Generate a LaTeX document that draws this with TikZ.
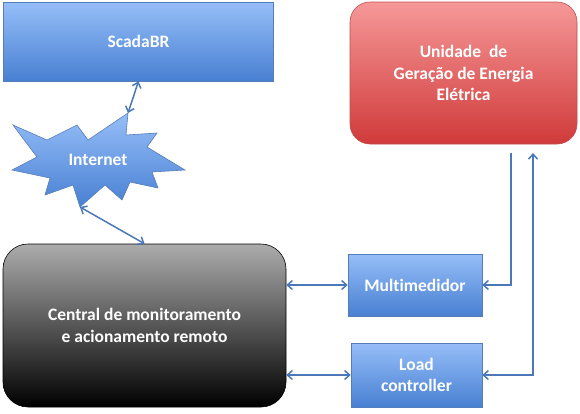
\documentclass[tikz,border=0pt]{standalone}
\usepackage{fontspec}
\setmainfont{Carlito}[Ligatures=NoCommon]
\usetikzlibrary{arrows.meta}

\definecolor{blueTop}{RGB}{150,190,248}
\definecolor{blueBot}{RGB}{72,128,210}
\definecolor{blueLine}{RGB}{85,125,185}
\definecolor{redTop}{RGB}{246,152,152}
\definecolor{redBot}{RGB}{208,58,58}
\definecolor{redLine}{RGB}{190,80,80}
\definecolor{grayTop}{RGB}{172,172,172}
\definecolor{linkBlue}{RGB}{75,120,185}

\begin{document}
\begin{tikzpicture}[x=1pt,y=-1pt,
    blockblue/.style={draw=blueLine,line width=0.6pt,top color=blueTop,bottom color=blueBot,
        text=white,font=\fontsize{17.5}{21.5}\selectfont\bfseries,align=center,inner sep=0pt},
    link/.style={draw=linkBlue,line width=1.5pt,arrows={Straight Barb[length=5pt,width=9pt]-Straight Barb[length=5pt,width=9pt]}},
    linkend/.style={draw=linkBlue,line width=1.5pt,-{Straight Barb[length=5pt,width=9pt]}}]
                \useasboundingbox (0,0) rectangle (580,413);
                % blocks
                \node[blockblue,minimum width=270pt,minimum height=79pt] (scada) at (138.5,41.5) {ScadaBR};
                \node[blockblue,draw=redLine,top color=redTop,bottom color=redBot,rounded corners=20pt,
                      minimum width=227pt,minimum height=142pt] (gen) at (463.5,73)
                      {Unidade\ \ de\\Geração de Energia\\Elétrica};
                \node[blockblue,draw=black,top color=grayTop,bottom color=black,rounded corners=25pt,
                      minimum width=283pt,minimum height=163pt] (central) at (144.5,325.5)
                      {Central de monitoramento\\e acionamento remoto};
                \node[blockblue,minimum width=134pt,minimum height=62pt] (multi) at (415,285) {Multimedidor};
                \node[blockblue,minimum width=131pt,minimum height=64pt] (load) at (416.5,375) {Load\\controller};
                % internet burst
                \draw[draw=blueLine,line width=0.6pt,top color=blueTop,bottom color=blueBot]
                    (128,113) -- (126,135) -- (157,133) -- (147,147) -- (185,170) -- (152,172)
                    -- (158,188) -- (130,182) -- (122,200) -- (105,185) -- (80,207) -- (73,185)
                    -- (45,195) -- (50,178) -- (12,170) -- (37,157) -- (13,125) -- (47,140)
                    -- (77,125) -- (88,140) -- cycle;
                \node[text=white,font=\fontsize{17.5}{21.5}\selectfont\bfseries] (net) at (98,160) {Internet};
                \coordinate (nettop) at (128,113);
                \coordinate (netbot) at (80,207);
                \coordinate (genout) at (511,153);
                \coordinate (genin) at (533,153);
                % links
                \draw[link] (scada.south) -- (nettop);
                \draw[link] (netbot) -- (central.north);
                \draw[link] (multi.west -| central.east) -- (multi.west);
                \draw[link] (load.west -| central.east) -- (load.west);
                \draw[linkend] (genout) |- (multi.east);
                \draw[link] (load.east) -| (genin);
            \end{tikzpicture}
\end{document}
